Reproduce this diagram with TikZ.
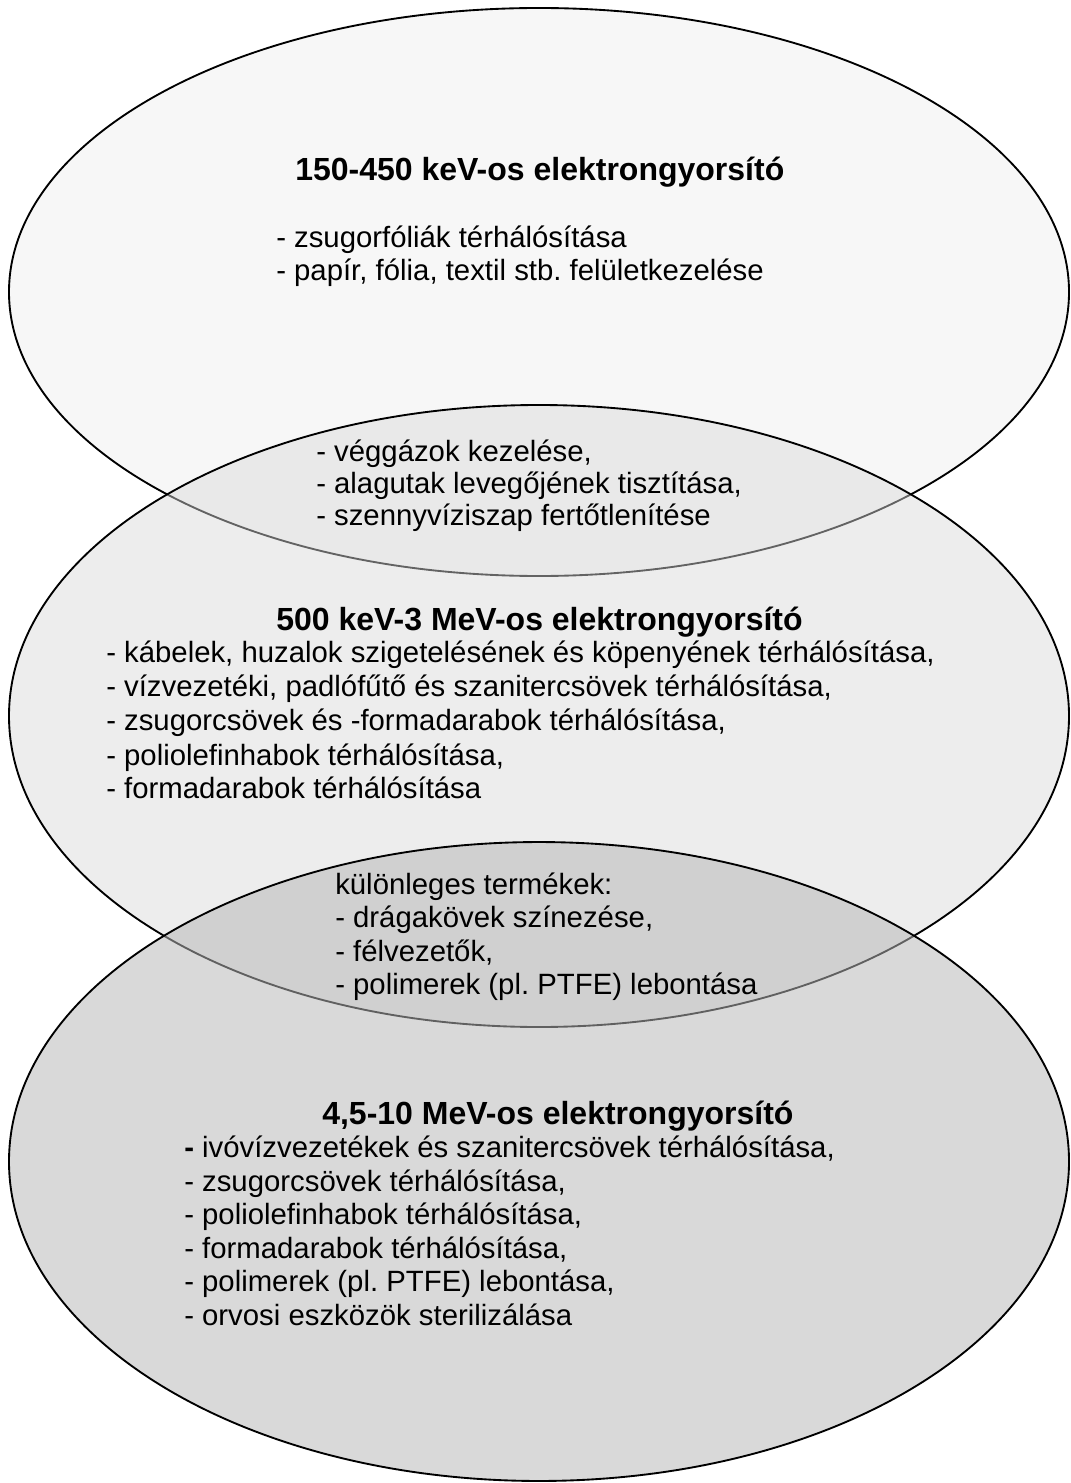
\documentclass[tikz,border=0pt]{standalone}
\usepackage{fontspec}
\setmainfont{Liberation Sans}
\definecolor{fillA}{RGB}{247,247,247}
\definecolor{fillB}{RGB}{217,217,217}
\definecolor{fillC}{RGB}{183,183,183}
\begin{document}
\frenchspacing
\begin{tikzpicture}[x=0.75pt,y=-0.75pt,
  body/.style={anchor=base west, inner sep=0pt, font=\fontsize{22}{25}\selectfont},
  ttl/.style={anchor=base west, inner sep=0pt, font=\fontsize{24}{28}\selectfont\bfseries},
  elli/.style={draw=black, line width=1.4pt}]
\useasboundingbox (0,0) rectangle (1070,1483);
\fill[white] (0,0) rectangle (1070,1483);
% ellipses
\path[elli, fill=fillA] (539,292) ellipse [x radius=397.5pt, y radius=213pt];
\path[elli, fill=fillB, fill opacity=0.46] (539,716) ellipse [x radius=397.5pt, y radius=233.25pt];
\path[elli, fill=fillC, fill opacity=0.525] (539,1161.5) ellipse [x radius=397.5pt, y radius=239.6pt];
% block 1
\node[ttl] (t1) at (295,181) {150-450 keV-os elektrongyorsító};
\node[body] (a1) at (276,247.5) {- zsugorfóliák térhálósítása};
\node[body] (a2) at (276,281) {- papír, fólia, textil stb. felületkezelése};
% lens 1
\node[body] (l1) at (316,461) {- véggázok kezelése,};
\node[body] (l2) at (316,493) {- alagutak levegőjének tisztítása,};
\node[body] (l3) at (316,525) {- szennyvíziszap fertőtlenítése};
% block 2
\node[ttl] (t2) at (276,630) {500 keV-3 MeV-os elektrongyorsító};
\node[body] (b1) at (106,662) {- kábelek, huzalok szigetelésének és köpenyének térhálósítása,};
\node[body] (b2) at (106,696) {- vízvezetéki, padlófűtő és szanitercsövek térhálósítása,};
\node[body] (b3) at (106,730) {- zsugorcsövek és -formadarabok térhálósítása,};
\node[body] (b4) at (106,765) {- poliolefinhabok térhálósítása,};
\node[body] (b5) at (106,798) {- formadarabok térhálósítása};
% lens 2
\node[body] (m1) at (335,894) {különleges termékek:};
\node[body] (m2) at (335,927) {- drágakövek színezése,};
\node[body] (m3) at (335,961) {- félvezetők,};
\node[body] (m4) at (335,994) {- polimerek (pl. PTFE) lebontása};
% block 3
\node[ttl] (t3) at (322,1124) {4,5-10 MeV-os elektrongyorsító};
\node[body] (c1) at (184,1157) {\textbf{-} ivóvízvezetékek és szanitercsövek térhálósítása,};
\node[body] (c2) at (184,1191) {- zsugorcsövek térhálósítása,};
\node[body] (c3) at (184,1224) {- poliolefinhabok térhálósítása,};
\node[body] (c4) at (184,1258) {- formadarabok térhálósítása,};
\node[body] (c5) at (184,1291) {- polimerek (pl. PTFE) lebontása,};
\node[body] (c6) at (184,1325) {- orvosi eszközök sterilizálása};
\end{tikzpicture}
\end{document}
